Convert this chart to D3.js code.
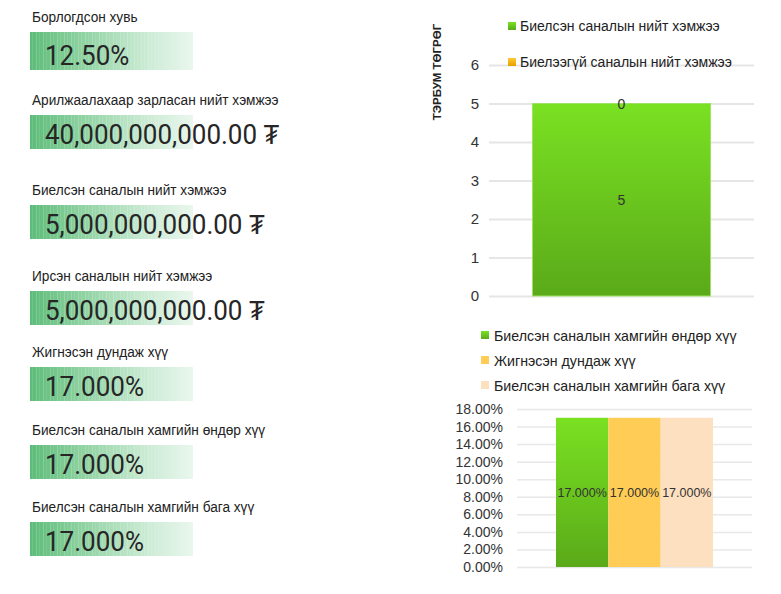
<!DOCTYPE html>
<html>
<head>
<meta charset="utf-8">
<script src="https://cdn.jsdelivr.net/npm/d3@7"></script>
<style>
body{margin:0;background:#fff;}
svg{display:block;font-family:"Liberation Sans",Arial,sans-serif;}
</style>
</head>
<body>
<svg id="chart" width="781" height="594"></svg>
<script>
// ---------- DATA ----------
const cardLabels = [
  "Борлогдсон хувь",
  "Арилжаалахаар зарласан нийт хэмжээ",
  "Биелсэн саналын нийт хэмжээ",
  "Ирсэн саналын нийт хэмжээ",
  "Жигнэсэн дундаж хүү",
  "Биелсэн саналын хамгийн өндөр хүү",
  "Биелсэн саналын хамгийн бага хүү"
];
const cardValues = [
  "12.50%",
  "40,000,000,000.00 ₮",
  "5,000,000,000.00 ₮",
  "5,000,000,000.00 ₮",
  "17.000%",
  "17.000%",
  "17.000%"
];
const amountSeries = ["Биелсэн саналын нийт хэмжээ", "Биелээгүй саналын нийт хэмжээ"];
const amountValues = [5, 0];
const amountTicks = [0, 1, 2, 3, 4, 5, 6];
const amountAxisTitle = "ТЭРБУМ ТӨГРӨГ";

const rateSeries = ["Биелсэн саналын хамгийн өндөр хүү", "Жигнэсэн дундаж хүү", "Биелсэн саналын хамгийн бага хүү"];
const rateValues = [17, 17, 17];
const rateTicks = [0, 2, 4, 6, 8, 10, 12, 14, 16, 18];

// ---------- LAYOUT ----------
const svg = d3.select("#chart");
const defs = svg.append("defs");

// card gradient
const cg = defs.append("linearGradient").attr("id", "cardGrad").attr("x1", 0).attr("x2", 1).attr("y1", 0).attr("y2", 0);
cg.append("stop").attr("offset", "0%").attr("stop-color", "#5cbc78");
cg.append("stop").attr("offset", "35%").attr("stop-color", "#93d4a5");
cg.append("stop").attr("offset", "70%").attr("stop-color", "#c9ead2");
cg.append("stop").attr("offset", "100%").attr("stop-color", "#eaf7ee");
const pat = defs.append("pattern").attr("id", "stripes").attr("patternUnits", "userSpaceOnUse")
  .attr("width", 7).attr("height", 10);
pat.append("rect").attr("x", 1).attr("width", 1).attr("height", 10).attr("fill", "#fff").attr("opacity", 0.18);
pat.append("rect").attr("x", 4).attr("width", 1).attr("height", 10).attr("fill", "#fff").attr("opacity", 0.1);

const gGreen = defs.append("linearGradient").attr("id", "greenGrad").attr("x1", 0).attr("x2", 0).attr("y1", 0).attr("y2", 1);
gGreen.append("stop").attr("offset", "0%").attr("stop-color", "#7ae122");
gGreen.append("stop").attr("offset", "100%").attr("stop-color", "#5aaa19");
const gOrange = defs.append("linearGradient").attr("id", "orangeGrad").attr("x1", 0).attr("x2", 0).attr("y1", 0).attr("y2", 1);
gOrange.append("stop").attr("offset", "0%").attr("stop-color", "#ffc933");
gOrange.append("stop").attr("offset", "100%").attr("stop-color", "#e5a100");

// ---------- CARDS ----------
const cardTops = [32, 115, 205, 291, 367, 445, 522];
const cardHeights = [38, 34, 34, 34, 34, 34, 34];
const cardX = 30, cardW = 163;
const cards = svg.append("g").selectAll("g").data(cardLabels).join("g");
cards.append("text")
  .attr("transform", (d, i) => `translate(32,${cardTops[i] - 10}) scale(0.91,1)`)
  .attr("font-size", 15).attr("fill", "#222")
  .text(d => d);
cards.append("rect")
  .attr("x", cardX).attr("y", (d, i) => cardTops[i])
  .attr("width", cardW).attr("height", (d, i) => cardHeights[i])
  .attr("fill", "url(#cardGrad)");
cards.append("rect")
  .attr("x", cardX).attr("y", (d, i) => cardTops[i])
  .attr("width", cardW * 0.8).attr("height", (d, i) => cardHeights[i])
  .attr("fill", "url(#stripes)");
cards.append("text")
  .attr("transform", (d, i) => `translate(45,${cardTops[i] + cardHeights[i] - 5}) scale(1,1.08)`)
  .attr("font-size", 26).attr("fill", "#262626").attr("font-family", "Roboto, Liberation Sans, Arial")
  .text((d, i) => cardValues[i]);

// ---------- CHART 1 (stacked amount) ----------
const y1 = d3.scaleLinear().domain([0, 6]).range([296, 65]);
const x1 = d3.scaleBand().domain(["all"]).range([489, 754]).paddingInner(0).paddingOuter(0.244);
const c1 = svg.append("g");
c1.append("g").attr("transform", "translate(489,0)")
  .call(d3.axisLeft(y1).tickValues(amountTicks).tickSize(-265).tickPadding(10).tickFormat(d3.format("d")))
  .call(g => g.select(".domain").remove())
  .call(g => g.selectAll(".tick line").attr("stroke", "#e6e6e6").attr("stroke-width", 2))
  .call(g => g.selectAll(".tick text").attr("font-size", 15).attr("fill", "#333").attr("font-family", "Liberation Sans, Arial"));

const stacked = [];
let acc = 0;
amountValues.forEach((v, i) => { stacked.push({ name: amountSeries[i], y0: acc, y1: acc + v, v }); acc += v; });
const fills1 = ["url(#greenGrad)", "url(#orangeGrad)"];
c1.selectAll("rect.bar").data(stacked).join("rect").attr("class", "bar")
  .attr("x", x1("all")).attr("width", x1.bandwidth())
  .attr("y", d => y1(d.y1)).attr("height", d => y1(d.y0) - y1(d.y1))
  .attr("fill", (d, i) => fills1[i]).attr("stroke", "#9fe066").attr("stroke-width", 1);
c1.selectAll("text.lbl").data(stacked).join("text").attr("class", "lbl")
  .attr("x", x1("all") + x1.bandwidth() / 2)
  .attr("y", d => y1((d.y0 + d.y1) / 2) + 5)
  .attr("text-anchor", "middle").attr("font-size", 14).attr("fill", "#333")
  .text(d => d.v);

c1.append("text")
  .attr("transform", "translate(441,72) rotate(-90)")
  .attr("text-anchor", "middle").attr("font-size", 11.5).attr("font-weight", "bold").attr("fill", "#222")
  .text(amountAxisTitle);

const leg1 = c1.selectAll("g.leg").data(amountSeries).join("g").attr("class", "leg")
  .attr("transform", (d, i) => `translate(508,${22 + i * 36})`);
leg1.append("rect").attr("width", 8).attr("height", 8).attr("fill", (d, i) => fills1[i]);
leg1.append("text").attr("x", 12).attr("y", 9).attr("font-size", 14).attr("fill", "#222").text(d => d);

// ---------- CHART 2 (rates) ----------
const y2 = d3.scaleLinear().domain([0, 18]).range([567, 409]);
const x2 = d3.scaleBand().domain(rateSeries).range([556, 713]).padding(0);
const fills2 = ["url(#greenGrad)", "#ffcc55", "#fde0bf"];
const c2 = svg.append("g");
c2.append("g").attr("transform", "translate(517,0)")
  .call(d3.axisLeft(y2).tickValues(rateTicks).tickSize(-235).tickPadding(14).tickFormat(d => d3.format(".2f")(d) + "%"))
  .call(g => g.select(".domain").remove())
  .call(g => g.selectAll(".tick line").attr("stroke", "#e8e8e8").attr("stroke-width", 1.5))
  .call(g => g.selectAll(".tick text").attr("font-size", 14).attr("fill", "#333").attr("font-family", "Liberation Sans, Arial"));
c2.selectAll("rect.bar").data(rateValues).join("rect").attr("class", "bar")
  .attr("x", (d, i) => x2(rateSeries[i])).attr("width", x2.bandwidth())
  .attr("y", d => y2(d)).attr("height", d => y2(0) - y2(d))
  .attr("fill", (d, i) => fills2[i]);
c2.selectAll("text.lbl").data(rateValues).join("text").attr("class", "lbl")
  .attr("x", (d, i) => x2(rateSeries[i]) + x2.bandwidth() / 2)
  .attr("y", d => y2(d / 2) + 5)
  .attr("text-anchor", "middle").attr("font-size", 12.5).attr("fill", "#333")
  .text(d => d3.format(".3f")(d) + "%");
const leg2 = c2.selectAll("g.leg").data(rateSeries).join("g").attr("class", "leg")
  .attr("transform", (d, i) => `translate(481,${331 + i * 25})`);
leg2.append("rect").attr("width", 8).attr("height", 8).attr("fill", (d, i) => fills2[i]);
leg2.append("text").attr("x", 13).attr("y", 9.5).attr("font-size", 14.2).attr("fill", "#222").text(d => d);
</script>
</body>
</html>
